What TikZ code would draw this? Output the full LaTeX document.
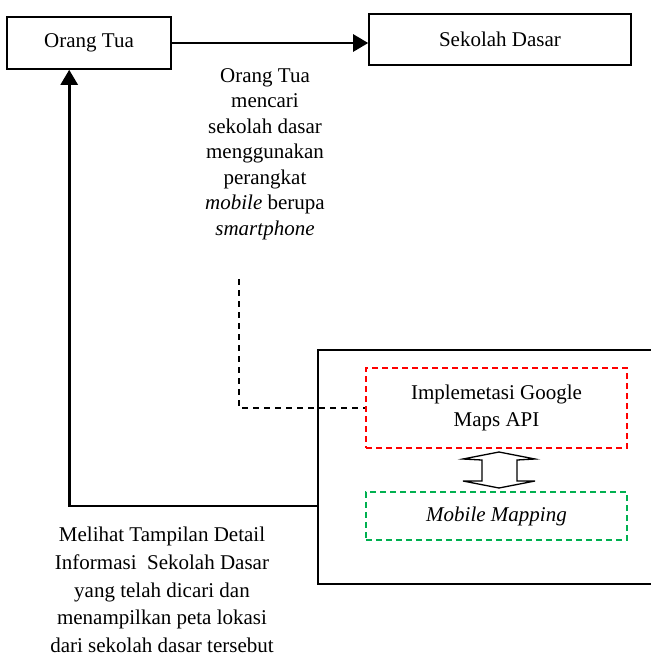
\documentclass[tikz,border=0pt]{standalone}
\usepackage{fontspec}
\setmainfont{Liberation Serif}
\usetikzlibrary{arrows.meta,calc}
\definecolor{dgreen}{RGB}{0,176,80}
\tikzset{
  box/.style={draw, line width=1.6pt, inner sep=0pt, font=\fontsize{21}{25}\selectfont},
  dbox/.style={draw, dashed, dash pattern=on 6pt off 4pt, line width=1.4pt, inner sep=0pt, align=center, font=\fontsize{21}{27.7}\selectfont},
  flow/.style={line width=2.6pt, -{Triangle[length=15pt,width=17pt]}},
  dline/.style={line width=1.3pt, dash pattern=on 6pt off 5pt},
  txt/.style={align=center, inner sep=0pt}
}
\begin{document}
\begin{tikzpicture}[x=1pt,y=-1pt]
\useasboundingbox (0,0) rectangle (651,657);
\clip (0,0) rectangle (651,657);
\node[box, minimum width=164pt, minimum height=52pt] (ot) at (89,43) {Orang Tua};
\node[box, minimum width=262pt, minimum height=51pt] (sd) at (500,39.5) {Sekolah Dasar};
\node[draw, line width=1.7pt, minimum width=342pt, minimum height=234pt, inner sep=0pt] (big) at (489,467) {};
\node[dbox, draw=red, minimum width=261pt, minimum height=80pt] (red) at (496.5,408) {Implemetasi Google\\Maps API};
\node[dbox, draw=dgreen, minimum width=261pt, minimum height=48pt] (green) at (496.5,516) {\itshape Mobile Mapping};
\node[txt, font=\fontsize{21}{25.5}\selectfont] (t1) at (265,154) {Orang Tua\\mencari\\sekolah dasar\\menggunakan\\perangkat\\\textit{mobile} berupa\\\textit{smartphone}};
\node[txt, font=\fontsize{21}{27.8}\selectfont] (t2) at (162,590) {Melihat Tampilan Detail\\Informasi\ \ Sekolah Dasar\\yang telah dicari dan\\menampilkan peta lokasi\\dari sekolah dasar tersebut};
% connectors
\draw[flow] (ot.east) -- (sd.west |- ot.east);
\coordinate (j) at (big.west |- 0,506);
\coordinate (otin) at ($(ot.south west)+(63,0)$);
\draw[flow] (j) -| (otin);
\coordinate (dtop) at (239,279);
\draw[dline] (dtop) |- (red.west);
% double arrow between red and green
\coordinate (m) at ($(red.south)!0.5!(green.north)+(2.5,0)$);
\draw[line width=1.3pt, line join=miter] ($(m)+(-36,-11)$) -- ($(m)+(-17,-10)$) -- ($(m)+(-17,11)$) -- ($(m)+(-36,11)$) -- ($(m)+(0,18)$) -- ($(m)+(36,11)$) -- ($(m)+(18,11)$) -- ($(m)+(18,-10)$) -- ($(m)+(36,-11)$) -- ($(m)+(0,-18)$) -- cycle;
\end{tikzpicture}
\end{document}
